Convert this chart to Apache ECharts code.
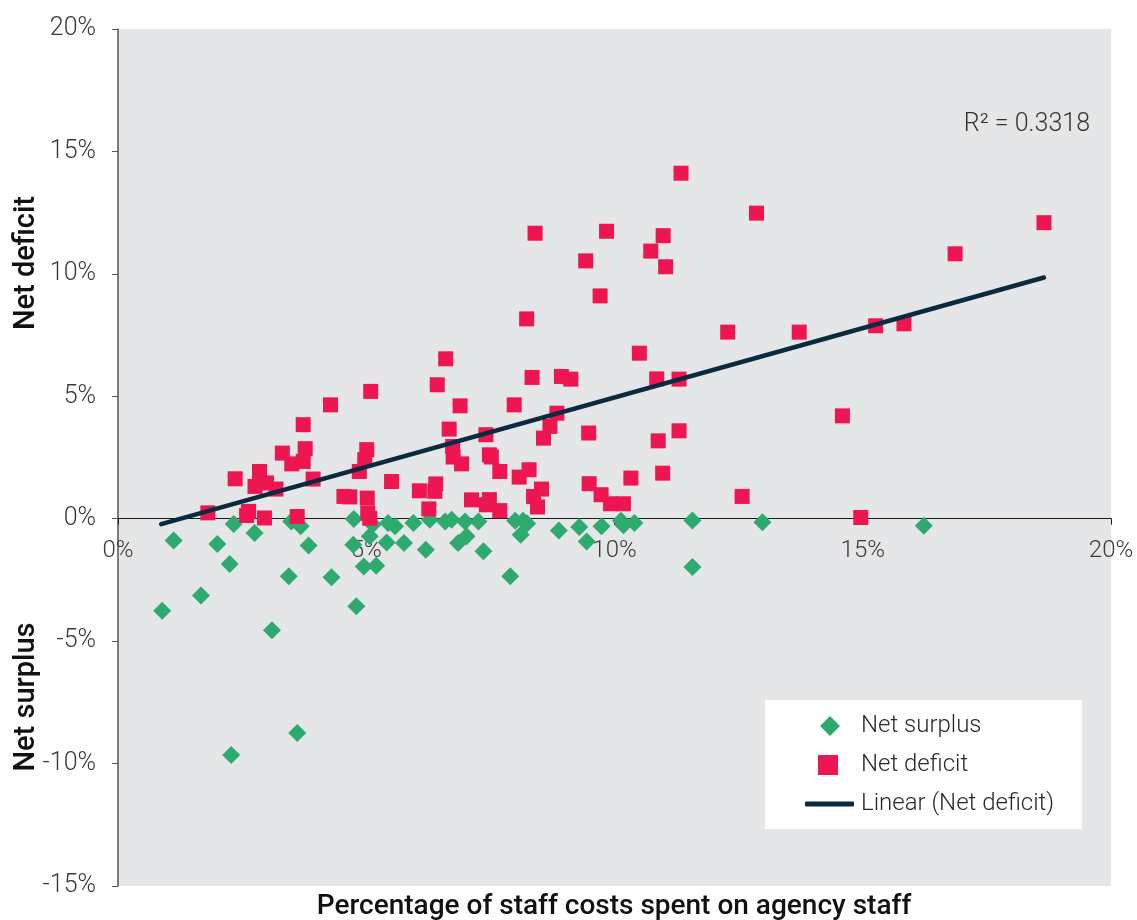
<!DOCTYPE html>
<html>
<head>
<meta charset="utf-8">
<script src="https://cdn.jsdelivr.net/npm/echarts@6/dist/echarts.min.js"></script>
<style>
  html, body { margin: 0; padding: 0; background: #ffffff; }
  #chart { width: 1137px; height: 920px; }
</style>
</head>
<body>
<div id="chart"></div>
<script>
// Agency staff spend (% of staff costs) against financial position (% of income)
const surplusX = [0.89, 1.12, 1.67, 2.00, 2.25, 2.33, 2.75, 2.28, 3.10, 3.44, 3.49, 3.68, 3.84, 3.61,
  4.30, 4.80, 4.75, 4.74, 5.07, 4.95, 5.20, 5.13, 5.44, 5.58, 5.41, 5.76, 5.95, 6.20, 6.28, 6.59,
  6.72, 6.99, 7.26, 6.85, 7.02, 7.36, 7.90, 8.00, 8.16, 8.24, 8.11, 8.88, 9.29, 9.44, 9.74, 10.13,
  10.18, 10.40, 11.57, 11.57, 12.98, 16.23];
const surplusY = [-3.76, -0.89, -3.14, -1.03, -1.85, -0.22, -0.58, -9.65, -4.56, -2.35, -0.11, -0.31, -1.09, -8.75,
  -2.39, -3.58, -0.01, -1.06, -0.72, -1.95, -1.92, -0.24, -0.18, -0.31, -0.97, -0.99, -0.18, -1.27, -0.04, -0.11,
  -0.04, -0.11, -0.11, -0.99, -0.72, -1.33, -2.35, -0.08, -0.08, -0.20, -0.65, -0.48, -0.34, -0.93, -0.31, -0.08,
  -0.27, -0.18, -0.07, -1.97, -0.14, -0.29];

const deficitX = [1.81, 2.36, 2.59, 2.63, 2.95, 2.85, 2.76, 2.99, 3.18, 3.31, 3.50, 3.77, 3.73, 3.73,
  3.93, 3.61, 4.28, 5.09, 5.01, 4.97, 4.86, 4.55, 4.67, 5.02, 5.03, 5.07, 5.51, 6.07, 6.40, 6.38,
  6.26, 6.43, 6.60, 6.89, 7.98, 8.84, 6.67, 7.41, 8.70, 8.57, 9.48, 10.88, 11.30, 6.74, 6.75, 6.92,
  7.48, 7.52, 7.69, 8.08, 8.28, 7.12, 7.48, 7.42, 7.69, 8.37, 8.53, 8.45, 9.49, 9.73, 9.92, 10.18,
  10.33, 10.97, 12.57, 11.34, 12.86, 8.40, 9.84, 10.98, 10.73, 11.03, 9.42, 9.71, 8.23, 12.28, 10.50,
  8.34, 8.93, 9.12, 10.85, 11.30, 18.65, 16.86, 13.72, 15.26, 15.83, 14.59, 14.96];
const deficitY = [0.24, 1.63, 0.13, 0.30, 0.03, 1.93, 1.32, 1.46, 1.21, 2.68, 2.24, 2.86, 2.34, 3.84,
  1.62, 0.09, 4.65, 5.20, 2.82, 2.41, 1.93, 0.91, 0.89, 0.84, 0.23, 0.02, 1.52, 1.14, 1.42, 1.12,
  0.40, 5.47, 6.53, 4.61, 4.65, 4.31, 3.66, 3.43, 3.77, 3.29, 3.50, 3.18, 3.59, 2.95, 2.52, 2.24,
  2.61, 2.52, 1.93, 1.70, 2.00, 0.77, 0.78, 0.57, 0.33, 0.91, 1.21, 0.48, 1.43, 0.98, 0.61, 0.61,
  1.66, 1.86, 0.91, 14.11, 12.48, 11.66, 11.74, 11.56, 10.93, 10.29, 10.53, 9.10, 8.16, 7.62, 6.76,
  5.77, 5.81, 5.70, 5.71, 5.70, 12.09, 10.82, 7.62, 7.88, 7.96, 4.20, 0.05];

// Linear trend fitted to the deficit series (end points of the drawn line)
const trendX = [0.87, 18.65];
const trendY = [-0.22, 9.85];
const rSquared = '0.3318';

const xTicks = { min: 0, max: 20, step: 5 };
const yTicks = { min: -15, max: 20, step: 5 };

const pairs = (xs, ys) => xs.map((x, i) => [x, ys[i]]);

const RED = '#ee1651';
const GREEN = '#2eaa6e';
const NAVY = '#0b2a3e';
const LABEL = '#3a3a3a';
const FONT = 'Roboto, "Liberation Sans", sans-serif';

const W = 1137, H = 920;
const grid = { left: 118, right: 26, top: 29, bottom: 34 };
const plotH = H - grid.top - grid.bottom;
// pull the horizontal axis up so it sits on the 0% line of the value axis
const zeroOffset = -plotH * (0 - yTicks.min) / (yTicks.max - yTicks.min);

const chart = echarts.init(document.getElementById('chart'), null, { renderer: 'canvas' });

const legendText = (padLeft) => ({
  fontSize: 24, color: '#2a2a2a', fontWeight: 300, fontFamily: FONT, padding: [0, 0, 0, padLeft]
});

chart.setOption({
  animation: false,
  backgroundColor: '#ffffff',
  textStyle: { fontFamily: FONT },
  grid: Object.assign({ show: true, backgroundColor: '#e5e6e8', borderWidth: 0 }, grid),
  xAxis: {
    type: 'value',
    position: 'bottom',
    offset: zeroOffset,
    min: xTicks.min, max: xTicks.max, interval: xTicks.step,
    axisLine: { onZero: false, lineStyle: { color: '#1a1a1a', width: 1 } },
    axisTick: { show: true, inside: false, length: 6, lineStyle: { color: '#1a1a1a' } },
    axisLabel: {
      formatter: v => v + '%', margin: 20,
      fontSize: 24, fontWeight: 300, color: LABEL, fontFamily: FONT
    },
    splitLine: { show: false }
  },
  yAxis: {
    type: 'value',
    min: yTicks.min, max: yTicks.max, interval: yTicks.step,
    axisLine: { show: true, onZero: false, lineStyle: { color: '#555555', width: 1.5 } },
    axisTick: { show: true, inside: false, length: 6, lineStyle: { color: '#555555' } },
    axisLabel: {
      formatter: v => v + '%', margin: 22,
      fontSize: 25, fontWeight: 300, color: LABEL, fontFamily: FONT
    },
    splitLine: { show: false }
  },
  legend: [
    {
      left: 815, top: 709, itemWidth: 20, itemHeight: 20, z: 10, selectedMode: false,
      textStyle: legendText(16),
      data: [{ name: 'Net surplus', icon: 'diamond' }]
    },
    {
      left: 813, top: 748, itemWidth: 20, itemHeight: 20, z: 10, selectedMode: false,
      textStyle: legendText(18),
      data: [{ name: 'Net deficit', icon: 'rect' }]
    },
    {
      left: 800, top: 787, itemWidth: 49, itemHeight: 5, z: 10, selectedMode: false,
      textStyle: legendText(2),
      data: [{ name: 'Linear (Net deficit)', icon: 'roundRect' }]
    }
  ],
  graphic: [
    { type: 'rect', z: 3, shape: { x: 765, y: 700, width: 317, height: 129 }, style: { fill: '#ffffff' } },
    {
      type: 'text', x: 1090, y: 125, z: 5,
      style: { text: 'R² = ' + rSquared, font: '300 25px ' + FONT, fill: '#333333', textAlign: 'right', textVerticalAlign: 'middle' }
    },
    {
      type: 'text', x: 614, y: 907,
      style: { text: 'Percentage of staff costs spent on agency staff', font: '500 28px ' + FONT, fill: '#111111', textAlign: 'center', textVerticalAlign: 'middle' }
    },
    {
      type: 'text', x: 27, y: 263, rotation: Math.PI / 2,
      style: { text: 'Net deficit', font: '500 29px ' + FONT, fill: '#111111', textAlign: 'center', textVerticalAlign: 'middle' }
    },
    {
      type: 'text', x: 27, y: 697, rotation: Math.PI / 2,
      style: { text: 'Net surplus', font: '500 29px ' + FONT, fill: '#111111', textAlign: 'center', textVerticalAlign: 'middle' }
    }
  ],
  series: [
    {
      name: 'Net surplus', type: 'scatter', symbol: 'diamond', symbolSize: 18,
      itemStyle: { color: GREEN, opacity: 1 },
      data: pairs(surplusX, surplusY), z: 2
    },
    {
      name: 'Net deficit', type: 'scatter', symbol: 'rect', symbolSize: 15,
      itemStyle: { color: RED, opacity: 1 },
      data: pairs(deficitX, deficitY), z: 3
    },
    {
      name: 'Linear (Net deficit)', type: 'line', symbol: 'none', showSymbol: false,
      lineStyle: { color: NAVY, width: 4.5, cap: 'round' },
      itemStyle: { color: NAVY },
      data: pairs(trendX, trendY), z: 4
    }
  ]
});
</script>
</body>
</html>
